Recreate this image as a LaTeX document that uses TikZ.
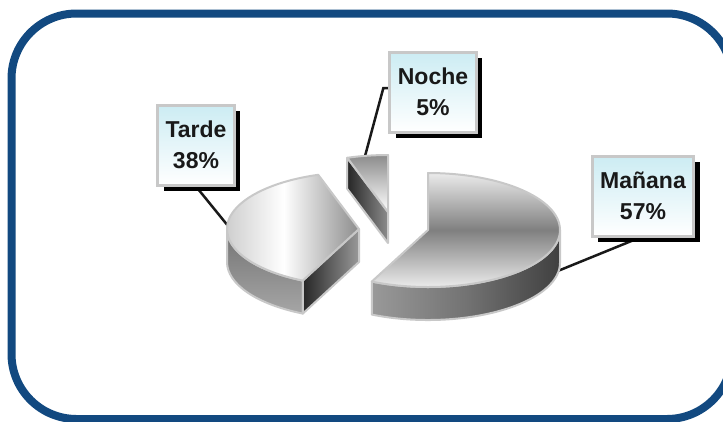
\documentclass[tikz,border=0pt]{standalone}
\usepackage{fontspec}
\setmainfont{Liberation Sans}
\usepackage{xcolor}
\usetikzlibrary{shadows,backgrounds}
\definecolor{frameblue}{RGB}{18,73,128}
\definecolor{tagcyan}{RGB}{204,236,243}
\definecolor{rimgray}{RGB}{200,200,200}

\begin{document}
\begin{tikzpicture}[
    x=1pt, y=-1pt,
    tag/.style={rectangle, draw=rimgray, line width=3pt, top color=tagcyan, bottom color=white, align=center, inner xsep=8pt, minimum height=80pt, font=\fontsize{23}{31}\selectfont\bfseries, text=black!90, drop shadow={shadow xshift=6pt, shadow yshift=-6pt, fill=black, opacity=1}},
    face/.style={draw=rimgray, line width=2pt, line join=round},
    leader/.style={draw=black!90, line width=2.5pt}
]
    \useasboundingbox (0,0) rectangle (723,421);
    \draw[line width=8pt, frameblue, rounded corners=65pt] (11.5,13.5) rectangle (732,419);

    % Noche slice
    \begin{scope}[shift={(388,212)}]
        \draw[face, left color=black!85, right color=black!45] (0,0) -- (252:132 and 57) -- ++(0,31) -- (0,31) -- cycle;
        \draw[face, top color=black!45, bottom color=white] (0,0) -- (252:132 and 57) arc[start angle=252, end angle=270, x radius=132, y radius=57] -- cycle;
        \coordinate (noche-tip) at (260:132 and 57);
    \end{scope}

    % Tarde slice
    \begin{scope}[shift={(359,229)}]
        \draw[face, top color=black!55, bottom color=black!35] (115.2:132 and 57) arc[start angle=115.2, end angle=180, x radius=132, y radius=57] -- ++(0,33) arc[start angle=180, end angle=115.2, x radius=132, y radius=57] -- cycle;
        \draw[face, left color=black!85, right color=black!40] (0,0) -- (115.2:132 and 57) -- ++(0,33) -- (0,33) -- cycle;
        \draw[face, left color=black!25, right color=black!45, middle color=white] (0,0) -- (115.2:132 and 57) arc[start angle=115.2, end angle=252, x radius=132, y radius=57] -- cycle;
        \coordinate (tarde-rim) at (184:132 and 57);
    \end{scope}

    % Manana slice
    \begin{scope}[shift={(428,230)}]
        \draw[face, left color=black!40, right color=black!75, middle color=black!55] (0:132 and 57) arc[start angle=0, end angle=115.2, x radius=132, y radius=57] -- ++(0,33) arc[start angle=115.2, end angle=0, x radius=132, y radius=57] -- cycle;
        \draw[face, top color=black!8, bottom color=black!8, middle color=black!50] (0,0) -- (-90:132 and 57) arc[start angle=-90, end angle=115.2, x radius=132, y radius=57] -- cycle;
        \coordinate (manana-rim) at ([yshift=-31pt]10:132 and 57);
    \end{scope}

    \node[tag] (tarde) at (196,145) {Tarde\\38\%};
    \node[tag] (noche) at (433,92) {Noche\\5\%};
    \node[tag] (manana) at (643,196) {Mañana\\57\%};

    \begin{scope}[on background layer]
        \draw[leader] (tarde.south) -- (tarde-rim);
        \draw[leader] (noche-tip) -- ([xshift=-5pt,yshift=4pt]noche.west) -- ([yshift=4pt]noche.west);
        \draw[leader] (manana-rim) -- ([xshift=-3pt]manana.south);
    \end{scope}
\end{tikzpicture}
\end{document}
